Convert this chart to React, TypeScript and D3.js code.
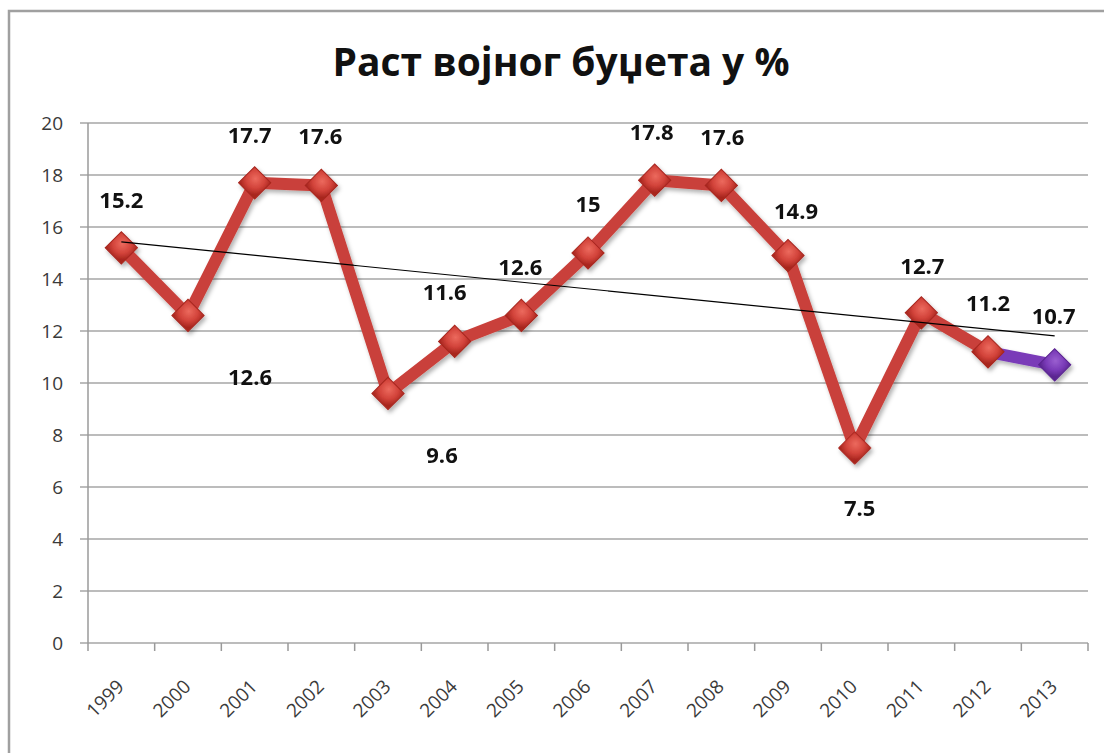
import * as d3 from 'd3';

const YEARS = ['1999', '2000', '2001', '2002', '2003', '2004', '2005', '2006', '2007', '2008', '2009', '2010', '2011', '2012', '2013'];
const GROWTH = [15.2, 12.6, 17.7, 17.6, 9.6, 11.6, 12.6, 15, 17.8, 17.6, 14.9, 7.5, 12.7, 11.2, 10.7];
const Y_TICKS = [0, 2, 4, 6, 8, 10, 12, 14, 16, 18, 20];
// label position relative to the marker, [dx, dy]
const LABEL_OFFSETS = [
    [0, -48], [62, 62], [-5, -48], [-1, -49], [54, 62], [-10, -49], [-1, -48], [0, -49],
    [-3, -48], [1, -48], [8, -45], [5, 60], [1, -47], [0, -49], [-1, -49]
];
const TITLE = 'Раст војног буџета у %';

const W = 1104;
const H = 753;
const margin = {left: 88, right: 16, top: 123, bottom: 110};

export default function App() {
    const x = d3.scaleBand<string>().domain(YEARS).range([margin.left, W - margin.right]);
    const y = d3.scaleLinear().domain([0, 20]).range([H - margin.bottom, margin.top]);
    const cx = (i: number) => (x(YEARS[i]) as number) + x.bandwidth() / 2;

    const pts = GROWTH.map((v, i) => [cx(i), y(v)] as [number, number]);
    const line = d3.line();

    // least squares trend line
    const n = GROWTH.length;
    const mx = d3.mean(GROWTH.map((_, i) => i)) as number;
    const my = d3.mean(GROWTH) as number;
    const sxy = d3.sum(GROWTH, (v, i) => (i - mx) * (v - my));
    const sxx = d3.sum(GROWTH, (_, i) => (i - mx) * (i - mx));
    const slope = sxy / sxx;
    const trend = (i: number) => my + slope * (i - mx);

    const diamond = d3.symbol(d3.symbolSquare, 520)();
    const x0 = margin.left;
    const x1 = W - margin.right;
    const yBase = y(0);

    return (
        <svg width={W} height={H} style={{position: 'absolute', left: 0, top: 0, background: '#fff'}}>
            <defs>
                <radialGradient id="redM" cx="40%" cy="35%" r="70%">
                    <stop offset="0%" stopColor="#ec6a5e" />
                    <stop offset="60%" stopColor="#d2433a" />
                    <stop offset="100%" stopColor="#a8261f" />
                </radialGradient>
                <radialGradient id="purM" cx="40%" cy="35%" r="70%">
                    <stop offset="0%" stopColor="#9a5fd0" />
                    <stop offset="60%" stopColor="#7a3bb8" />
                    <stop offset="100%" stopColor="#5a2590" />
                </radialGradient>
                <filter id="shadow" x="-30%" y="-30%" width="170%" height="170%">
                    <feDropShadow dx="2" dy="3" stdDeviation="2" floodColor="#000" floodOpacity="0.3" />
                </filter>
            </defs>

            {/* outer frame */}
            <rect x={9} y={11} width={W + 20} height={H + 20} fill="none" stroke="#a0a0a0" strokeWidth={2.5} />

            <text x={561} y={76} textAnchor="middle" fontFamily="'Open Sans', sans-serif" fontWeight={700}
                fontSize={40} textLength={457} lengthAdjust="spacingAndGlyphs" fill="#111">{TITLE}</text>

            {/* grid + y axis */}
            {Y_TICKS.map((t) => (
                <g key={t}>
                    <line x1={x0 - 8} x2={x1} y1={y(t)} y2={y(t)} stroke="#a6a6a6" strokeWidth={1.5} />
                    <text x={x0 - 25} y={y(t)} dy="0.36em" textAnchor="end" fontFamily="'Open Sans', sans-serif"
                        fontSize={19} fill="#3a3a3a">{t}</text>
                </g>
            ))}
            <line x1={x0} x2={x0} y1={y(20)} y2={yBase} stroke="#9a9a9a" strokeWidth={1.5} />

            {/* x axis ticks + labels */}
            {YEARS.concat(['end']).map((yr, i) => {
                const tx = margin.left + i * x.bandwidth();
                return <line key={'t' + i} x1={tx} x2={tx} y1={yBase} y2={yBase + 8} stroke="#9a9a9a" strokeWidth={1.5} />;
            })}
            {YEARS.map((yr, i) => (
                <text key={yr} transform={`translate(${cx(i) - 1},${yBase + 40}) rotate(-45)`} textAnchor="end"
                    dy="0.36em" fontFamily="'Open Sans', sans-serif" fontSize={19} fill="#3a3a3a">{yr}</text>
            ))}

            {/* series */}
            <g filter="url(#shadow)">
                <path d={line(pts.slice(0, n - 1)) as string} fill="none" stroke="#c9403a" strokeWidth={12}
                    strokeLinejoin="round" />
                <path d={line(pts.slice(n - 2)) as string} fill="none" stroke="#7a3bb8" strokeWidth={12} />
                {pts.map(([px, py], i) => (
                    <path key={i} d={diamond as string} transform={`translate(${px},${py}) rotate(45)`}
                        fill={i === n - 1 ? 'url(#purM)' : 'url(#redM)'}
                        stroke={i === n - 1 ? '#5a2590' : '#a8261f'} strokeWidth={1} />
                ))}
            </g>

            {/* trend */}
            <line x1={cx(0)} x2={cx(n - 1)} y1={y(trend(0))} y2={y(trend(n - 1))} stroke="#000" strokeWidth={1.2} />

            {/* data labels */}
            {GROWTH.map((v, i) => (
                <text key={'l' + i} x={pts[i][0] + LABEL_OFFSETS[i][0]} y={pts[i][1] + LABEL_OFFSETS[i][1]}
                    dy="0.36em" textAnchor="middle" fontFamily="'Open Sans', sans-serif" fontWeight={700}
                    fontSize={22} fill="#111">{v}</text>
            ))}
        </svg>
    );
}
